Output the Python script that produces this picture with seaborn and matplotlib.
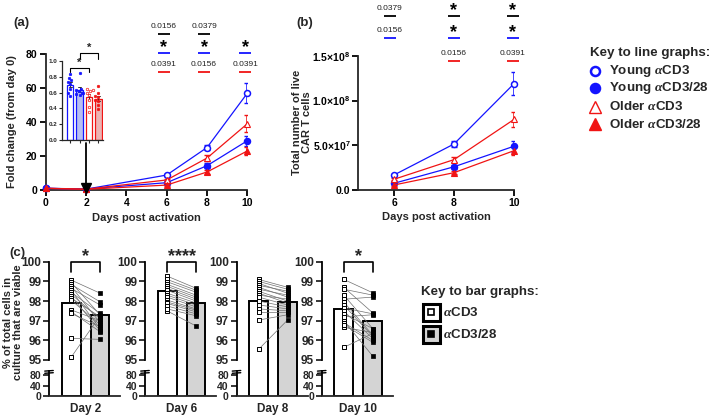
import numpy as np
import pandas as pd
import seaborn as sns
import matplotlib
matplotlib.use("Agg")
import matplotlib.pyplot as plt
from matplotlib.transforms import blended_transform_factory as blend
from matplotlib.patches import Rectangle

# ---------------- data ----------------
days_a = [0, 2, 6, 8, 10]
fold_young_cd3 = [1.0, 0.5, 8.8, 25.0, 57.0]
fold_young_cd3_sem = [0.0, 0.2, 0.8, 1.6, 6.0]
fold_young_cd328 = [1.0, 0.6, 4.3, 14.3, 29.0]
fold_young_cd328_sem = [0.0, 0.2, 0.5, 1.3, 3.0]
fold_older_cd3 = [1.0, 0.5, 5.9, 18.8, 39.0]
fold_older_cd3_sem = [0.0, 0.2, 0.6, 1.6, 5.0]
fold_older_cd328 = [1.0, 0.4, 2.9, 10.6, 23.0]
fold_older_cd328_sem = [0.0, 0.2, 0.4, 1.0, 2.5]

inset_groups = ["Young aCD3", "Young aCD3/28", "Older aCD3", "Older aCD3/28"]
inset_young_cd3 = [0.83, 0.79, 0.76, 0.74, 0.71, 0.64, 0.59, 0.56]
inset_young_cd328 = [0.85, 0.65, 0.63, 0.62, 0.60, 0.60, 0.58, 0.57]
inset_older_cd3 = [0.65, 0.63, 0.62, 0.60, 0.57, 0.50, 0.42, 0.35]
inset_older_cd328 = [0.68, 0.59, 0.56, 0.54, 0.51, 0.49, 0.44, 0.39]

days_b = [6, 8, 10]
live_young_cd3 = [1.68e7, 5.15e7, 1.19e8]
live_young_cd3_sem = [1.5e6, 3.0e6, 1.3e7]
live_young_cd328 = [7.5e6, 2.6e7, 4.9e7]
live_young_cd328_sem = [1.0e6, 2.5e6, 6.0e6]
live_older_cd3 = [1.2e7, 3.4e7, 7.9e7]
live_older_cd3_sem = [1.0e6, 2.5e6, 8.0e6]
live_older_cd328 = [5.6e6, 1.94e7, 4.4e7]
live_older_cd328_sem = [8.0e5, 2.0e6, 5.0e6]

sig_a_black = ["0.0156", "0.0379", ""]
sig_a_blue = ["*", "*", "*"]
sig_a_red = ["0.0391", "0.0156", "0.0391"]
sig_b_black = ["0.0379", "*", "*"]
sig_b_blue = ["0.0156", "*", "*"]
sig_b_red = ["", "0.0156", "0.0391"]

viab_days = ["Day 2", "Day 6", "Day 8", "Day 10"]
viab_conditions = ["aCD3", "aCD3/28"]
viab_cd3_mean = [97.9, 98.52, 98.0, 97.6]
viab_cd328_mean = [97.3, 97.9, 97.96, 97.0]
viab_cd3_pts = [
    [99.07, 98.95, 98.85, 98.75, 98.65, 98.55, 98.45, 98.35, 98.25, 98.15, 98.05, 97.55, 97.46, 97.37, 96.1, 95.13],
    [99.27, 99.1, 98.98, 98.85, 98.75, 98.65, 98.55, 98.4, 98.3, 98.2, 98.05, 97.95, 97.88, 97.75, 97.5, 97.6],
    [99.1, 99.0, 98.9, 98.8, 98.7, 98.6, 98.5, 98.4, 98.3, 98.2, 98.0, 97.8, 97.6, 97.46, 97.03, 95.54],
    [99.1, 98.7, 98.6, 98.3, 98.09, 97.95, 97.8, 97.65, 97.49, 97.35, 97.2, 97.0, 96.9, 96.66, 96.8, 95.64],
]
viab_cd328_pts = [
    [98.4, 97.3, 97.96, 96.9, 97.8, 96.6, 97.37, 97.1, 96.5, 97.2, 96.8, 97.0, 96.44, 96.7, 96.05, 97.25],
    [98.65, 98.55, 98.45, 98.3, 98.2, 98.1, 98.0, 97.9, 97.8, 97.7, 97.6, 97.54, 97.45, 97.35, 96.73, 97.25],
    [98.7, 98.6, 98.4, 98.5, 98.2, 98.3, 98.0, 97.9, 98.1, 97.8, 97.7, 97.6, 97.5, 97.46, 97.3, 97.03],
    [98.42, 97.4, 98.3, 96.6, 98.2, 96.27, 96.2, 97.35, 96.1, 96.6, 97.3, 95.2, 96.0, 96.4, 95.9, 96.35],
]
viab_sig = ["*", "****", "", "*"]

# ---------------- style ----------------
sns.set_theme(style="ticks")
plt.rcParams["font.family"] = ["Liberation Sans", "DejaVu Sans"]
plt.rcParams["font.weight"] = "bold"
plt.rcParams["axes.labelweight"] = "bold"
plt.rcParams["axes.linewidth"] = 1.3
plt.rcParams["mathtext.fontset"] = "custom"
plt.rcParams["mathtext.rm"] = "Liberation Sans:bold"
plt.rcParams["mathtext.bf"] = "Liberation Sans:bold"
plt.rcParams["mathtext.it"] = "Liberation Serif:italic"

BLUE = "#1414ff"
RED = "#f01414"
W, H = 709, 418
fig = plt.figure(figsize=(W / 100, H / 100), dpi=100)
fig.patch.set_facecolor("white")

lax = fig.add_axes([0, 0, 1, 1])
lax.set_xlim(0, W)
lax.set_ylim(H, 0)
lax.axis("off")


def add_ax(l, t, r, b):
    return fig.add_axes([l / W, 1 - b / H, (r - l) / W, (b - t) / H])


def style_axis(ax, size=7.5):
    sns.despine(ax=ax)
    ax.tick_params(direction="out", length=4, width=1.3, labelsize=size, pad=2, colors="black")
    for lbl in ax.get_xticklabels() + ax.get_yticklabels():
        lbl.set_fontweight("bold")


def sig_rows(ax, xs, rows, halfw):
    tr = blend(ax.transData, lax.transData)
    for labels, color, ly in rows:
        for x, s in zip(xs, labels):
            if not s:
                continue
            ax.plot([x - halfw, x + halfw], [ly, ly], color=color, lw=1.3,
                    transform=tr, clip_on=False, solid_capstyle="butt")
            if s.startswith("*"):
                ax.text(x, ly - 0.5, s, transform=tr, ha="center", va="baseline",
                        fontsize=13, fontweight="bold", color="black")
            else:
                ax.text(x, ly - 6.0, s, transform=tr, ha="center", va="baseline",
                        fontsize=6, fontweight="normal", color="#222222")


def draw_series(ax, xs, series):
    for vals, sem, col, mk, filled in series:
        ax.errorbar(xs, vals, yerr=sem, fmt="none", ecolor=col, elinewidth=1.1,
                    capsize=2.5, capthick=1.0, zorder=2)
        sns.lineplot(x=xs, y=vals, ax=ax, color=col, lw=0.9, marker=mk,
                     markersize=4.3 if mk == "o" else 4.8,
                     markerfacecolor=col if filled else "white", markeredgecolor=col,
                     markeredgewidth=1.1 if mk == "o" else 0.8, clip_on=False, zorder=3)


series_a = [
    (fold_young_cd3, fold_young_cd3_sem, BLUE, "o", False),
    (fold_young_cd328, fold_young_cd328_sem, BLUE, "o", True),
    (fold_older_cd3, fold_older_cd3_sem, RED, "^", False),
    (fold_older_cd328, fold_older_cd328_sem, RED, "^", True),
]

# ---------------- panel (a) ----------------
axA = add_ax(45.7, 54, 247.4, 190)
draw_series(axA, days_a, series_a)
axA.plot([2, 2], [27.5, 1.5], color="black", lw=1.3, zorder=4, clip_on=False)
axA.plot([2], [1.3], marker="v", ms=6.5, color="black", zorder=5, clip_on=False)
axA.set_xlim(0, 10)
axA.set_ylim(0, 80)
axA.set_xticks([0, 2, 4, 6, 8, 10])
axA.set_yticks([0, 20, 40, 60, 80])
axA.set_xlabel("")
axA.set_ylabel("")
style_axis(axA)
sig_rows(axA, [5.85, 7.85, 9.9], [(sig_a_black, "black", 34), (sig_a_blue, BLUE, 53),
                                  (sig_a_red, RED, 72)], 0.3)

# inset
axI = add_ax(61.7, 61, 103, 140)
inset_vals = [inset_young_cd3, inset_young_cd328, inset_older_cd3, inset_older_cd328]
inset_df = pd.DataFrame({
    "group": np.repeat(inset_groups, [len(v) for v in inset_vals]),
    "ratio": np.concatenate(inset_vals),
})
face = {inset_groups[0]: "white", inset_groups[1]: "#aeb6fb",
        inset_groups[2]: "white", inset_groups[3]: "#f5a9a9"}
sns.barplot(data=inset_df, x="group", y="ratio", hue="group", order=inset_groups,
            palette=face, errorbar="se", capsize=0.3, width=0.7, legend=False,
            err_kws={"linewidth": 0.7, "color": "#333333"}, linewidth=0.9, ax=axI)
edge_cols = [BLUE, BLUE, RED, RED]
for p, ec in zip(axI.patches, edge_cols):
    p.set_edgecolor(ec)
for g, vals, col, filled in zip(inset_groups, inset_vals, edge_cols, [True, True, False, True]):
    sns.swarmplot(x=[g] * len(vals), y=vals, order=inset_groups, ax=axI, size=1.8,
                  color=col if filled else "white", edgecolor=col, linewidth=0.5, zorder=4)
axI.set_xlim(-0.9, 3.5)
axI.set_ylim(0, 1.0)
axI.set_yticks([0, 0.2, 0.4, 0.6, 0.8, 1.0])
axI.set_yticklabels(["0.0", "0.2", "0.4", "0.6", "0.8", "1.0"])
axI.set_xticks([0, 1, 2, 3])
axI.set_xticklabels([])
axI.set_xlabel("")
axI.set_ylabel("")
sns.despine(ax=axI)
axI.patch.set_alpha(0)
axI.tick_params(length=2, width=0.8, labelsize=4.5, pad=1)
for s in axI.spines.values():
    s.set_linewidth(0.9)
for lbl in axI.get_yticklabels():
    lbl.set_fontweight("bold")
for (x0, x1, yb, yd, ys) in [(0, 2, 0.91, 0.86, 0.935), (1, 3, 1.10, 1.03, 1.125)]:
    axI.plot([x0, x0, x1, x1], [yd, yb, yb, yd], color="black", lw=0.8, clip_on=False)
    axI.text((x0 + x1) / 2, ys, "*", ha="center", va="baseline", fontsize=8,
             fontweight="bold")

# ---------------- panel (b) ----------------
series_b = [
    (live_young_cd3, live_young_cd3_sem, BLUE, "o", False),
    (live_young_cd328, live_young_cd328_sem, BLUE, "o", True),
    (live_older_cd3, live_older_cd3_sem, RED, "^", False),
    (live_older_cd328, live_older_cd328_sem, RED, "^", True),
]
axB = add_ax(358, 56, 514, 190)
draw_series(axB, days_b, series_b)
axB.set_xlim(4.8, 10)
axB.set_ylim(0, 1.5e8)
axB.set_xticks([6, 8, 10])
axB.set_yticks([0, 5e7, 1e8, 1.5e8])
axB.set_yticklabels(["0.0", r"5.0×10$^{7}$", r"1.0×10$^{8}$", r"1.5×10$^{8}$"])
axB.set_xlabel("")
axB.set_ylabel("")
style_axis(axB)
axB.tick_params(axis="y", pad=1.5)
sig_rows(axB, [5.85, 8.0, 9.95], [(sig_b_black, "black", 16), (sig_b_blue, BLUE, 38),
                                  (sig_b_red, RED, 61)], 0.2)

# ---------------- panel (c) ----------------
bp = np.array([0.0, 80.0, 95.0, 100.0])
pp = np.array([0.0, 21.0, 36.0, 134.3])


def fwd(v):
    v = np.asarray(v, dtype=float)
    out = np.interp(v, bp, pp)
    out = np.where(v > 100, pp[3] + (v - 100) * (pp[3] - pp[2]) / 5.0, out)
    out = np.where(v < 0, v * pp[1] / 80.0, out)
    return out


def inv(p):
    p = np.asarray(p, dtype=float)
    out = np.interp(p, pp, bp)
    out = np.where(p > pp[3], 100 + (p - pp[3]) * 5.0 / (pp[3] - pp[2]), out)
    out = np.where(p < 0, p * 80.0 / pp[1], out)
    return out


c_left = [49, 145, 236.5, 321.7]
for i, day in enumerate(viab_days):
    ax = add_ax(c_left[i], 261.7, c_left[i] + 71, 396)
    ax.set_yscale("function", functions=(fwd, inv))
    sns.barplot(x=viab_conditions, y=[viab_cd3_mean[i], viab_cd328_mean[i]],
                hue=viab_conditions, palette=["white", "#d4d4d4"], width=0.655,
                edgecolor="black", linewidth=1.4, legend=False, ax=ax, zorder=1)
    a = viab_cd3_pts[i]
    b = viab_cd328_pts[i]
    for ya, yb in zip(a, b):
        ax.plot([0, 1], [ya, yb], color="#707070", lw=0.5, zorder=3)
    sns.scatterplot(x=np.zeros(len(a)), y=a, marker="s", s=6, color="white",
                    edgecolor="black", linewidth=0.7, zorder=4, ax=ax, legend=False)
    sns.scatterplot(x=np.ones(len(b)), y=b, marker="s", s=6, color="black",
                    edgecolor="black", linewidth=0.5, zorder=4, ax=ax, legend=False)
    ax.set_xlim(-0.76, 1.69)
    ax.set_ylim(0, 100)
    ax.set_yticks([0, 40, 80, 95, 96, 97, 98, 99, 100])
    ax.set_yticklabels(["0", "40", "80", "95", "96", "97", "98", "99", "100"])
    ax.set_xticks([0.5])
    ax.set_xticklabels([day])
    ax.set_xlabel("")
    ax.set_ylabel("")
    ax.minorticks_off()
    sns.despine(ax=ax)
    ax.patch.set_alpha(0)
    ax.spines["left"].set_visible(False)
    ax.tick_params(axis="y", direction="out", length=4, width=1.3, labelsize=8.5, pad=1.5)
    ax.tick_params(axis="x", length=0, labelsize=8.5, pad=5)
    for lbl in ax.get_yticklabels():
        lbl.set_fontweight("bold")
        if lbl.get_text() in ("0", "40", "80"):
            lbl.set_fontsize(7.5)
    for lbl in ax.get_xticklabels():
        lbl.set_fontweight("bold")
    ytr = ax.get_yaxis_transform()
    ax.plot([0, 0], [95, 100], transform=ytr, color="black", lw=1.3, clip_on=False,
            solid_capstyle="projecting")
    ax.plot([0, 0], [0, 85], transform=ytr, color="black", lw=1.3, clip_on=False,
            solid_capstyle="butt")
    for yb_ in (82.0, 84.2):
        ax.plot([-0.06, 0.06], [yb_ - 0.3, yb_ + 0.3], transform=ytr, color="black",
                lw=1.0, clip_on=False)
    if viab_sig[i]:
        tr = blend(ax.transData, lax.transData)
        ax.plot([0, 0, 1, 1], [271.5, 261.7, 261.7, 271.5], transform=tr, color="black",
                lw=1.2, clip_on=False)
        ax.text(0.5, 261.0, viab_sig[i], transform=tr, ha="center", va="baseline",
                fontsize=13, fontweight="bold")

# ---------------- labels & keys ----------------
lax.text(21, 23, "(a)", fontsize=9.5, ha="center", va="center", fontweight="bold")
lax.text(305, 23, "(b)", fontsize=9.5, ha="center", va="center", fontweight="bold")
lax.text(17, 253, "(c)", fontsize=9.5, ha="center", va="center", fontweight="bold")
lax.text(12, 122, "Fold change (from day 0)", rotation=90, ha="center", va="center",
         fontsize=8, fontweight="bold")
lax.text(146, 218, "Days post activation", ha="center", va="center", fontsize=8,
         fontweight="bold")
lax.text(436, 217, "Days post activation", ha="center", va="center", fontsize=8,
         fontweight="bold")
lax.text(302, 122, "Total number of live\nCAR T cells", rotation=90, ha="center",
         va="center", fontsize=8, fontweight="bold", linespacing=1.1)
lax.text(13, 322, "% of total cells in\nculture that are viable", rotation=90,
         ha="center", va="center", fontsize=8, fontweight="bold", linespacing=1.1)

# line-graph key
KEYFS = 9.6
lax.text(590, 53, "Key to line graphs:", ha="left", va="center", fontsize=KEYFS,
         fontweight="bold")
key_line = [
    (r"Young $\alpha$CD3", BLUE, "o", False, 71),
    (r"Young $\alpha$CD3/28", BLUE, "o", True, 88),
    (r"Older $\alpha$CD3", RED, "^", False, 107),
    (r"Older $\alpha$CD3/28", RED, "^", True, 124),
]
for txt, col, mk, filled, y in key_line:
    lax.plot([595], [y], marker=mk, ms=6.5 if mk == "o" else 8.5,
             mfc=col if filled else "white", mec=col, mew=1.8 if mk == "o" else 1.0,
             ls="none")
    lax.text(609, y, txt, ha="left", va="center", fontsize=KEYFS, fontweight="bold")

# bar-graph key
lax.text(421, 292, "Key to bar graphs:", ha="left", va="center", fontsize=KEYFS,
         fontweight="bold")
for (y, fc, inner) in [(312, "white", "white"), (334, "#d4d4d4", "black")]:
    lax.add_patch(Rectangle((422.5, y - 8.5), 17, 17, facecolor=fc, edgecolor="black",
                            lw=2.2))
    lax.plot([431], [y], marker="s", ms=4, mfc=inner, mec="black", mew=1.2, ls="none")
lax.text(443, 312, r"$\alpha$CD3", ha="left", va="center", fontsize=KEYFS,
         fontweight="bold")
lax.text(443, 334, r"$\alpha$CD3/28", ha="left", va="center", fontsize=KEYFS,
         fontweight="bold")

fig.savefig("out.png", dpi=100, facecolor="white")
